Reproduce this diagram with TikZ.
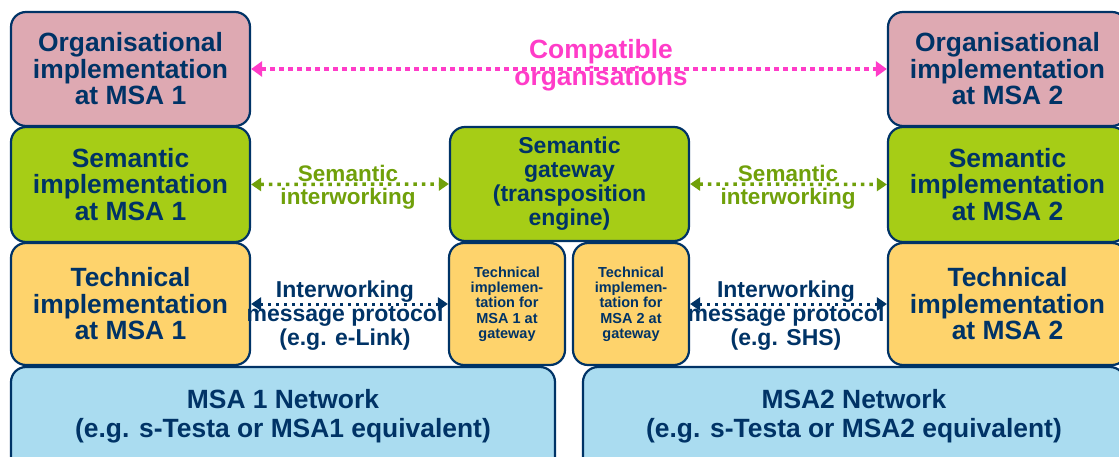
\documentclass[tikz,border=0pt]{standalone}
\usepackage{fontspec}
\setmainfont{Liberation Sans}
\usetikzlibrary{arrows.meta}
\definecolor{navy}{RGB}{0,51,102}
\definecolor{pinkfill}{RGB}{222,169,178}
\definecolor{greenfill}{RGB}{166,205,22}
\definecolor{yellowfill}{RGB}{254,211,108}
\definecolor{bluefill}{RGB}{170,220,240}
\definecolor{pinkline}{RGB}{255,60,200}
\definecolor{greenline}{RGB}{112,160,10}
\newcommand\fsBig{\fontsize{26.4}{26.5}\selectfont\bfseries}
\newcommand\fsMid{\fontsize{23}{24}\selectfont\bfseries}
\newcommand\fsLab{\fontsize{22.5}{23}\selectfont\bfseries}
\newcommand\fsSmall{\fontsize{14.5}{15.3}\selectfont\bfseries}
\newcommand\fsNet{\fontsize{26.4}{29}\selectfont\bfseries}
\begin{document}
\begin{tikzpicture}[x=1pt,y=-1pt,
  box/.style={draw=navy, line width=2.2pt, rounded corners=15pt, align=center,
    text=navy, inner sep=0pt},
  bigbox/.style={box, minimum width=239pt, font=\fsBig},
  txt/.style={align=center, inner sep=0pt},
  pinkarr/.style={draw=pinkline, line width=4.5pt, dash pattern=on 4.5pt off 4.5pt,
    {Triangle[length=11pt,width=15pt]}-{Triangle[length=11pt,width=15pt]}},
  greenarr/.style={draw=greenline, line width=3.5pt, dash pattern=on 3.5pt off 5pt,
    {Triangle[length=10pt,width=13pt]}-{Triangle[length=10pt,width=13pt]}},
  navyarr/.style={draw=navy, line width=3pt, dash pattern=on 3pt off 5pt,
    {Triangle[length=10pt,width=13pt]}-{Triangle[length=10pt,width=13pt]}}
]
\useasboundingbox (0,0) rectangle (1119,457);

% network layer
\node[box, fill=bluefill, minimum width=544pt, minimum height=120pt] (netL) at (283,427) {};
\node[box, fill=bluefill, minimum width=542pt, minimum height=120pt] (netR) at (854,427) {};
\node[txt, text=navy, font=\fsNet] (netLt) at (283,416) {MSA 1 Network\\(e.g. s-Testa or MSA1 equivalent)};
\node[txt, text=navy, font=\fsNet] (netRt) at (854,416) {MSA2 Network\\(e.g. s-Testa or MSA2 equivalent)};

% technical layer
\node[bigbox, fill=yellowfill, minimum height=122pt] (techL) at (130.5,304) {Technical\\implementation\\at MSA 1};
\node[bigbox, fill=yellowfill, minimum height=122pt] (techR) at (1007.5,304) {Technical\\implementation\\at MSA 2};
\node[box, fill=yellowfill, minimum width=116pt, minimum height=122pt, font=\fsSmall] (tgw1) at (507,304) {Technical\\implemen-\\tation for\\MSA 1 at\\gateway};
\node[box, fill=yellowfill, minimum width=116pt, minimum height=122pt, font=\fsSmall] (tgw2) at (631,304) {Technical\\implemen-\\tation for\\MSA 2 at\\gateway};

% semantic layer
\node[bigbox, fill=greenfill, minimum height=115pt] (semL) at (130.5,184.5) {Semantic\\implementation\\at MSA 1};
\node[bigbox, fill=greenfill, minimum height=115pt] (semR) at (1007.5,184.5) {Semantic\\implementation\\at MSA 2};
\node[box, fill=greenfill, minimum width=239pt, minimum height=114pt, font=\fsMid] (gw) at (569.5,184) {Semantic\\gateway\\(transposition\\engine)};

% organisational layer
\node[bigbox, fill=pinkfill, minimum height=114pt] (orgL) at (130.5,69) {Organisational\\implementation\\at MSA 1};
\node[bigbox, fill=pinkfill, minimum height=114pt] (orgR) at (1007.5,69) {Organisational\\implementation\\at MSA 2};

% connectors
\draw[pinkarr] (orgL.east) -- (orgR.west);
\draw[greenarr] (semL.east) -- (gw.west);
\draw[greenarr] (gw.east) -- (semR.west);
\draw[navyarr] (techL.east) -- (tgw1.west);
\draw[navyarr] (tgw2.east) -- (techR.west);

% labels
\node[txt, text=pinkline, font=\fsBig] (lorg) at (601,65) {Compatible\\organisations};
\node[txt, text=greenline, font=\fsLab] (lsemL) at (348,187) {Semantic\\interworking};
\node[txt, text=greenline, font=\fsLab] (lsemR) at (788,187) {Semantic\\interworking};
\node[txt, text=navy, font=\fsMid] (ltechL) at (345,316) {Interworking\\message protocol\\(e.g. e-Link)};
\node[txt, text=navy, font=\fsMid] (ltechR) at (786,316) {Interworking\\message protocol\\(e.g. SHS)};
\end{tikzpicture}
\end{document}
